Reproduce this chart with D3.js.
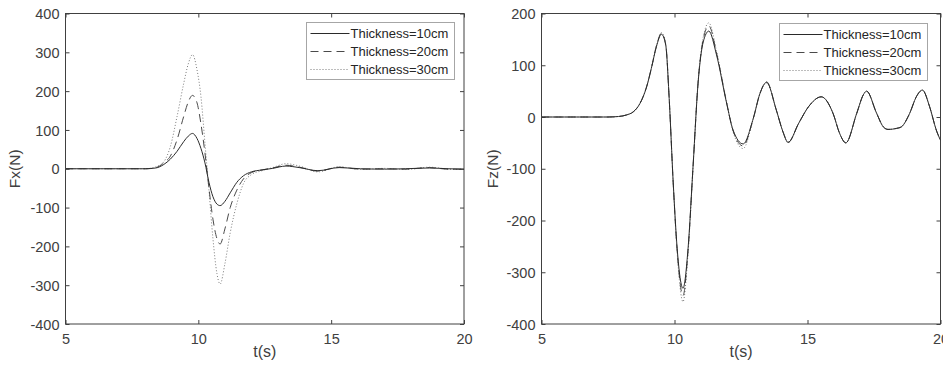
<!DOCTYPE html>
<html><head><meta charset="utf-8">
<script src="https://cdn.jsdelivr.net/npm/d3@7"></script>
<style>
html,body{margin:0;padding:0;background:#fff;}
svg{display:block;font-family:"Liberation Sans",Arial,Helvetica,sans-serif;}
</style></head>
<body>
<svg id="chart" width="943" height="373"></svg>
<script>
// ---------- data ----------
const seriesNames = ["Thickness=10cm","Thickness=20cm","Thickness=30cm"];
const xTicks = [5,10,15,20];
const fxTicks = [-400,-300,-200,-100,0,100,200,300,400];
const fzTicks = [-400,-300,-200,-100,0,100,200];

const tFx = [5,7,8,8.4,8.7,8.95,9.2,9.45,9.62,9.78,9.95,10.1,10.25,10.4,10.55,10.7,10.82,11.0,11.2,11.45,11.7,12.0,12.4,12.8,13.3,13.8,14.5,15.3,16.1,17,17.8,18.7,19.4,20];
const fx10 = [0,0,0,2,11,25,45,70,84,91,78,52,15,-35,-72,-91,-95,-84,-62,-35,-18,-8,-3,1,7,3,-5,3,0,-1,0,2,0,-1];
const fx20 = [0,0,0,3,15,33,75,135,172,189,170,115,40,-50,-130,-180,-194,-155,-100,-55,-26,-10,-3,2,9,4,-6,4,-1,0,-1,3,-1,-1];
const fx30 = [0,0,0,5,18,58,135,220,270,294,255,185,65,-55,-180,-270,-297,-245,-165,-90,-38,-15,-5,3,13,7,-8,5,-2,1,-2,4,-1,-2];

const tFz = [5,7.5,7.9,8.2,8.45,8.7,8.95,9.13,9.32,9.51,9.67,9.8,9.95,10.1,10.32,10.51,10.7,10.89,11.08,11.29,11.58,11.95,12.2,12.58,12.96,13.21,13.46,13.83,14.08,14.27,14.67,15.04,15.52,15.96,16.21,16.44,16.85,17.1,17.22,17.6,17.85,18.03,18.35,18.53,18.84,19.09,19.32,19.59,19.84,20];
const fz10 = [0,0,1,4,10,26,58,94,136,160,139,36,-125,-254,-331,-254,-93,68,145,166,120,29,-25,-52,-3,45,67,13,-29,-49,-12,20,39,7,-32,-50,7,43,50,7,-19,-24,-22,-19,7,39,52,20,-25,-45];
const fz20 = [0,0,1,4,10,26,58,94,137,162,140,36,-126,-258,-345,-258,-94,69,150,176,124,30,-26,-56,-3,45,68,13,-29,-49,-12,20,39,7,-32,-50,7,43,50,7,-19,-24,-22,-19,7,39,52,20,-25,-45];
const fz30 = [0,0,1,4,10,26,58,95,138,163,141,37,-127,-262,-357,-262,-95,70,154,182,127,31,-28,-61,-4,45,66,13,-29,-50,-12,20,39,7,-32,-50,7,43,50,7,-19,-24,-22,-19,7,39,52,20,-25,-45];

// ---------- drawing ----------
const svg = d3.select("#chart");
const styles = [
  {stroke:"#2a2a2a", dash:null, w:1},
  {stroke:"#4a4a4a", dash:"8,5", w:1},
  {stroke:"#7a7a7a", dash:"1,2", w:1}
];
const axisColor = "#404040";
const textColor = "#404040";
const fmt = d => String(d);

function panel(opts){
  const {x0,x1,y0,y1,yDomain,yTicks,t,series,ylabel,id,legend} = opts;
  const x = d3.scaleLinear().domain([5,20]).range([x0,x1]);
  const y = d3.scaleLinear().domain(yDomain).range([y1,y0]);
  const g = svg.append("g");
  g.append("defs").append("clipPath").attr("id",id)
    .append("rect").attr("x",x0).attr("y",y0).attr("width",x1-x0).attr("height",y1-y0);

  const tl = 4;
  const ax = d3.axisBottom(x).tickValues(xTicks).tickSize(-tl).tickPadding(10).tickFormat(fmt);
  const gb = g.append("g").attr("transform",`translate(0,${y1})`).call(ax);
  const at = d3.axisTop(x).tickValues(xTicks).tickSize(-tl).tickFormat("");
  const gt = g.append("g").attr("transform",`translate(0,${y0})`).call(at);
  const al = d3.axisLeft(y).tickValues(yTicks).tickSize(-tl).tickPadding(6).tickFormat(fmt);
  const gl = g.append("g").attr("transform",`translate(${x0},0)`).call(al);
  const ar = d3.axisRight(y).tickValues(yTicks).tickSize(-tl).tickFormat("");
  const gr = g.append("g").attr("transform",`translate(${x1},0)`).call(ar);
  [gb,gt,gl,gr].forEach(a=>{
    a.select(".domain").remove();
    a.selectAll("line").attr("stroke",axisColor).attr("stroke-width",1);
    a.selectAll("text").attr("fill",textColor).style("font-size","14.5px");
  });
  gl.selectAll("text").attr("dy","0.36em");
  gb.selectAll("text").attr("dy","0.71em");

  g.append("rect").attr("x",x0).attr("y",y0).attr("width",x1-x0).attr("height",y1-y0)
    .attr("fill","none").attr("stroke",axisColor).attr("stroke-width",1);

  const line = d3.line().x((d,i)=>x(t[i])).y(d=>y(d)).curve(d3.curveMonotoneX);
  const lg = g.append("g").attr("clip-path",`url(#${id})`);
  series.slice().reverse().forEach((s,ri)=>{
    const i = series.length-1-ri;
    lg.append("path").attr("d",line(s)).attr("fill","none")
      .attr("stroke",styles[i].stroke).attr("stroke-width",styles[i].w)
      .attr("stroke-dasharray",styles[i].dash);
  });

  g.append("text").attr("x",(x0+x1)/2).attr("y",357).attr("text-anchor","middle")
    .attr("fill",textColor).style("font-size","16px").text("t(s)");
  g.append("text").attr("transform",`translate(${legend.ylx},${(y0+y1)/2}) rotate(-90)`)
    .attr("text-anchor","middle").attr("fill",textColor).style("font-size","15.5px").text(ylabel);

  const L = legend;
  g.append("rect").attr("x",L.x).attr("y",L.y).attr("width",L.w).attr("height",L.h)
    .attr("fill","#fff").attr("stroke","#a6a6a6").attr("stroke-width",1);
  seriesNames.forEach((n,i)=>{
    const yy = L.y + 11 + i*18;
    g.append("line").attr("x1",L.x+4).attr("x2",L.x+43).attr("y1",yy).attr("y2",yy)
      .attr("stroke",styles[i].stroke).attr("stroke-width",styles[i].w)
      .attr("stroke-dasharray",styles[i].dash);
    g.append("text").attr("x",L.x+44).attr("y",yy).attr("dy","0.36em")
      .attr("fill","#262626").style("font-size","13px").text(n);
  });
}

panel({x0:65.5,x1:464,y0:13.5,y1:324,yDomain:[-400,400],yTicks:fxTicks,t:tFx,
  series:[fx10,fx20,fx30],ylabel:"Fx(N)",id:"c1",
  legend:{x:306.5,y:22.5,w:148,h:57,ylx:20}});
panel({x0:541.5,x1:940.5,y0:13.5,y1:324,yDomain:[-400,200],yTicks:fzTicks,t:tFz,
  series:[fz10,fz20,fz30],ylabel:"Fz(N)",id:"c2",
  legend:{x:779.5,y:23.5,w:148,h:57,ylx:498}});
</script>
</body></html>
